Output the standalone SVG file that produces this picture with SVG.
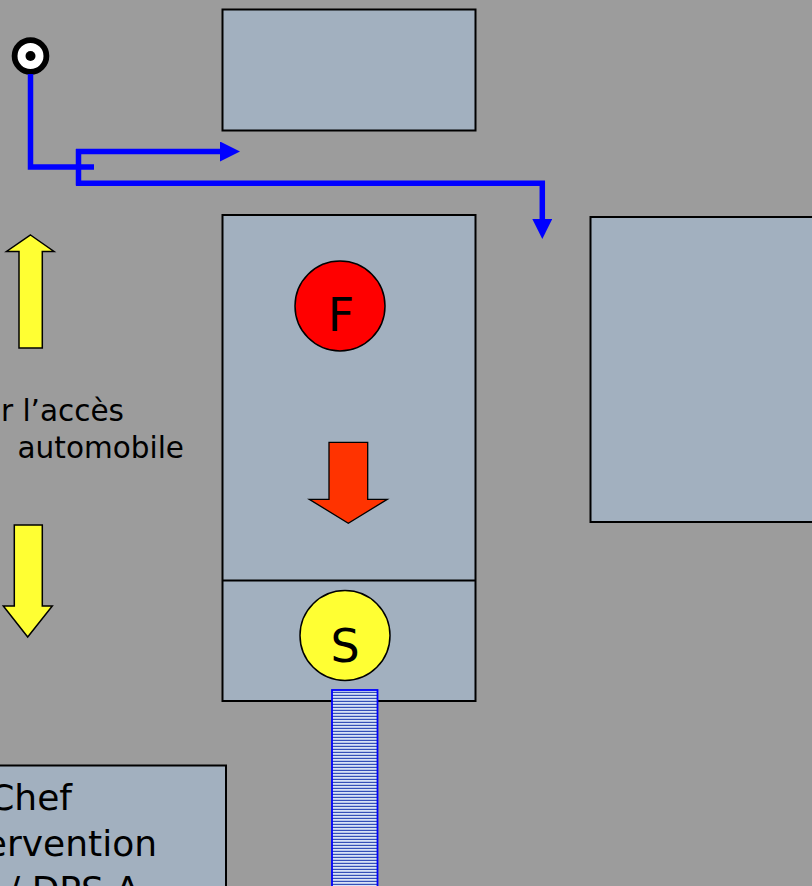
<svg xmlns="http://www.w3.org/2000/svg" width="812" height="886" viewBox="0 0 812 886">
<defs>
<style>
.box{fill:#a2b0bf;stroke:#000;stroke-width:2}
.flow{fill:none;stroke:#0000ff;stroke-width:5.5;stroke-linejoin:miter}
.txt{font-family:"DejaVu Sans",Verdana,sans-serif;fill:#000}
.yel{fill:#ffff33;stroke:#000;stroke-width:1.5;stroke-linejoin:miter}
</style>
<marker id="ah" markerUnits="userSpaceOnUse" markerWidth="20" markerHeight="20" viewBox="0 0 18 18" refX="0" refY="9" orient="auto">
<path d="M0,0 L18,9 L0,18 Z" fill="#0000ff"/>
</marker>
<pattern id="stripes" patternUnits="userSpaceOnUse" x="0" y="0" width="10" height="3">
<rect width="10" height="3" fill="#d8e2f6"/>
<rect y="1.8" width="10" height="1.2" fill="#3550b8"/>
</pattern>
</defs>
<rect width="812" height="886" fill="#9c9c9c"/>

<g id="top-box"><rect class="box" x="222.5" y="9.5" width="253" height="121"/></g>

<g id="main-box">
<rect class="box" x="222.5" y="215" width="253" height="486"/>
<line x1="222.5" y1="580.5" x2="475.5" y2="580.5" stroke="#000" stroke-width="2"/>
</g>

<g id="right-box"><rect class="box" x="590.5" y="217" width="240" height="305"/></g>

<g id="chef-box">
<rect class="box" x="-40" y="765.5" width="266" height="160"/>
<text class="txt" x="72" y="810" font-size="36" text-anchor="end">Chef</text>
<text class="txt" x="157" y="856" font-size="36" text-anchor="end">ervention</text>
<text class="txt" x="140" y="902" font-size="36" text-anchor="end">/ DPS A</text>
</g>

<g id="label-acces">
<text class="txt" x="124" y="421" font-size="29.5" text-anchor="end">r l’accès</text>
<text class="txt" x="184" y="458" font-size="29.5" text-anchor="end">automobile</text>
</g>

<g id="arrow-up"><path class="yel" d="M30.5,235 L54,251.5 L42.3,251.5 L42.3,348 L19,348 L19,251.5 L6.5,251.5 Z"/></g>
<g id="arrow-down"><path class="yel" d="M14.3,525 L42.3,525 L42.3,606 L52.3,606 L27.7,637 L3.3,606 L14.3,606 Z"/></g>

<g id="fire">
<circle cx="340" cy="306" r="45" fill="#ff0000" stroke="#000" stroke-width="1.5"/>
<text class="txt" x="341" y="331" font-size="46" text-anchor="middle">F</text>
</g>

<g id="flow-arrow"><path d="M329,442.3 L367.7,442.3 L367.7,499.3 L387.3,499.3 L348.3,523.3 L309.3,499.3 L329,499.3 Z" fill="#ff3300" stroke="#000" stroke-width="1.3"/></g>

<g id="source">
<circle cx="345" cy="635.5" r="45" fill="#ffff33" stroke="#000" stroke-width="1.5"/>
<text class="txt" x="345" y="661.5" font-size="46" text-anchor="middle">S</text>
</g>

<g id="hose"><rect x="332" y="690" width="45.5" height="210" fill="url(#stripes)" stroke="#0000ff" stroke-width="1.8"/></g>

<g id="origin">
<circle cx="30.5" cy="56" r="15.9" fill="#fff" stroke="#000" stroke-width="5.8"/>
<circle cx="30.5" cy="56" r="5" fill="#000"/>
</g>

<g id="connectors">
<path class="flow" d="M30.5,74 L30.5,167 L94,167"/>
<path class="flow" d="M78.5,149 L78.5,185.5"/>
<path class="flow" d="M76,151.5 L220,151.5" marker-end="url(#ah)"/>
<path class="flow" d="M76,183.3 L542.3,183.3 L542.3,219" marker-end="url(#ah)"/>
</g>
</svg>
